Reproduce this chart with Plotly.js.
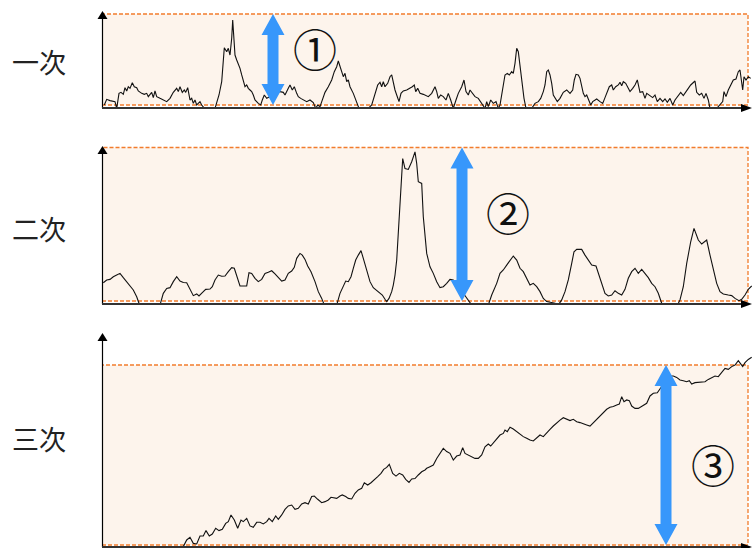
<!DOCTYPE html>
<html><head><meta charset="utf-8">
<script src="https://cdn.plot.ly/plotly-3.0.1.min.js"></script>
<style>html,body{margin:0;padding:0;background:#fff}#chart{width:753px;height:548px}</style>
</head><body><div id="chart"></div>
<script>
// ---- data (values: 0 = band bottom, 100 = band top) ----
const t1 = [2.3,4.7,8,13,14.7,17,19,21.3,23,24.7,26.3,28,30.3,32.3,34.7,36.3,39.7,42.3,44.7,46.3,49.7,51.3,53,54.7,58,61.3,64.7,68,71.3,74.7,76.3,78,80.3,82.3,83.7,85.7,88,89.7,91.3,93,94.7,98,99.7,103,108,113,114.7,117,119.7,122.3,124.7,126.3,128,129.7,130.7,131.7,133,134.7,136.3,138,139.7,141.3,143,144.7,146.3,148,149.7,151.3,153,156.3,158.7,160.3,162.3,164.7,168,171.3,174.7,178,181.3,183,186.3,188,190.3,192.3,194.7,196.3,198.7,201.3,204.7,208,211.3,213.7,215.7,218,220.3,223,226.3,229.7,232.3,234.7,236.3,238,239.7,241.3,243,244.7,246.3,248,251.3,254.7,257,259.7,264.7,269.7,273,275.7,278,279.7,281.3,283,285.7,288,289.7,291.3,293,294.7,297,299,301.3,304.7,308,310.3,312.3,313.7,315.7,318,321.3,323,326.3,329.7,333,334.7,336.3,338.7,341.3,344,346.3,348.7,351.3,354,356.3,359.7,362,364,366.3,368,370.7,373,376.3,379.7,383,384.7,386.3,388.7,391.3,394,396.3,398,400.7,403,405.3,407.3,409.7,411.3,413,414.7,416.3,418,419.7,422,424,426.3,429.7,433,436.3,438.7,441.3,443,444.7,446.3,448,449.7,451.3,453,455.3,458,461.3,464.7,468,470.7,472.3,474,476.3,478,479.7,481.3,483,484.7,486.3,488.7,490.7,494.7,498,500.7,503,505.3,507.3,509.7,511.3,513.7,516.3,518,519.7,521.3,523.7,526.3,528,530.7,533,535.3,536.7,538,540.7,543,544.7,548,550.7,553,555.3,558,560.7,563,565.3,568,570.7,573,576.3,578.7,581.3,584,586.3,588.7,591.3,593,594.7,597.3,599.7,602,604,606.3,608,611.3,614.7,618,620.7,622,624,626.3,628.7,631.3,634,636.3,638,639.7,640.7,642,644,646.3,648.7];
const v1 = [0,6.2,4.8,3.7,-3.7,12.8,13.9,11.7,19,15.4,20.1,18.3,24.5,20.1,19,15.4,12.8,11.7,12.8,9.2,13.9,8.1,15.4,9.2,7.3,5.5,3.7,7.3,13.9,18.3,14.7,20.1,13.9,16.5,13.9,19,5.5,7.3,1.8,5.5,0,3.7,0,-4.4,-6.6,-3.7,1.8,11,25.6,63,58.6,62.3,54.9,73.3,93.4,73.3,54.9,49.5,45.8,40.3,33,27.5,20.1,22,18.3,16.5,14.7,11,5.5,1.8,0,5.5,11,7.3,9.2,11,12.8,14.7,13.9,11,18.3,22,16.5,20.1,12.8,9.2,7.3,5.5,3.7,5.5,2.6,-3.7,0,-1.8,5.5,13.9,20.1,27.5,36.6,42.1,48.4,42.1,38.5,31.1,34.8,25.6,27.5,20.1,12.8,3.7,-3.7,-6.6,-5.5,0,11,22,24.9,20.1,25.6,20.1,23.8,31.1,33,23.8,16.5,11,3.7,12.8,15.4,16.5,18.3,20.1,22,14.7,18.3,12.8,11.7,11,9.2,12.8,20.1,14.7,7.3,11,9.2,5.5,12.8,5.5,-3.7,5.5,12.8,20.1,27.5,14.7,11,16.5,12.8,9.2,7.3,1.8,-3.7,3.7,-1.8,5.5,1.8,3.7,-3.7,0,16.5,33,34.8,33,36.6,34.8,45.8,62.3,58.6,44,25.6,7.3,-3.7,-6.6,-3.7,1.8,3.7,7.3,14.7,22,36.6,38.5,33,23.8,11,7.3,3.7,7.3,13.9,16.5,12.8,16.5,27.5,33.7,33,29.3,18.3,12.8,9.2,11,6.6,0,3.7,6.6,3.7,1.8,8.1,13.9,20.1,22,16.5,20.1,22,24.9,21.2,25.6,23.8,18.3,14.7,18.3,22,27.5,18.3,13.9,14.7,7.3,12.8,10.3,8.1,11,3.7,7.3,3.7,6.6,2.9,7.3,0,5.5,11,13.9,10.3,15.4,18.3,22,24.9,26.4,13.9,11,12.8,7.3,12.8,5.5,-3.7,-5.5,-3.7,0,3.7,14.7,9.2,16.5,22,27.5,28.6,36.6,38.5,27.5,16.5,31.1,27.5,31.1,29.3];

const t2 = [1.3,4.7,8,11.3,14.7,18,21.3,24.7,28,31.3,34.7,37,41.3,49.7,58,61.3,64.7,68,71.3,74.7,78,81.3,84.7,88,91.3,94.7,97,100.3,103.7,108,110.3,113,116.3,119.7,123,126.3,129.7,132.3,135.7,138,142.3,144.7,147,149.7,153,156.3,159.7,163,166.3,169.7,173,176.3,179.7,183,186.3,189.7,192.3,194.7,198,200.3,203,205.7,209,213,216.3,219.7,223,228,234.7,238,241.3,243.7,246.3,249,251.3,253.7,256.3,259,261.3,264.7,268,271.3,274.7,278,280.3,283,284.7,287,289.7,291.3,293,294.7,297,299,300.7,303,306.3,309.7,313,314.7,316.3,319.7,321.3,324.7,328,331.3,334.7,338,341.3,344.7,348,351.3,356.3,361.3,366.3,369.7,376.3,386.3,389.7,394.7,398,401.3,404.7,408,411.3,414.7,418,421.3,424.7,428,431.3,434.7,438,441.3,444.7,449.7,453,456.3,459.7,463,466.3,469.7,472,474.7,479.7,483,486.3,489.7,494,496.3,499.7,503,506.3,509.7,513,516.3,519.7,523,526.3,529.7,533,536.3,539.7,543,546.3,549.7,553,556.3,559.7,566.3,574.7,578,581.3,584.7,588.7,592,596.3,599.7,604.7,608,611.3,614.7,618,621.3,626.3,629.7,633,637,639.7,643,646.3,649.7];
const v2 = [11.9,13.7,14.1,15.8,16.9,18,15.2,12.6,10,7.2,2.8,-1.5,-3.7,-4.8,-2.6,5,8.2,8.7,12.6,15.8,13,12.1,11.9,7.2,3.5,4.6,3.3,5.4,7.6,7.8,9.3,13.7,16.9,16.1,16.3,19.1,21.7,21.3,15.2,9.8,9.8,9.8,18.4,18,14.8,12.6,14.1,18,18.7,19.7,17.6,15.2,13,13.7,18,19.5,21.9,27.8,31,29.9,27.1,22.8,19.1,12.6,6.1,1.7,-3.7,-4.8,-2.6,5,10.4,13,12.6,15.8,21.3,26.7,29.9,32.8,27.8,20.2,12.6,8.7,6.7,5.4,3.9,1.1,-0.4,1.7,6.1,10.4,16.9,26.7,50.5,74.4,92.8,86.3,85.7,90.7,97.2,89.6,77.7,76.6,54.9,31,22.3,18,12.6,8.7,9.3,11.5,14.1,13.7,10.4,5,0.7,-2.6,-4.8,-2.6,3.9,11.5,18,20.2,23.4,26.7,29.3,26.7,21.3,19.1,14.8,10.4,11.5,9.3,6.1,1.7,-0.4,-0.9,-1.5,-2.6,0.7,6.1,13.7,24.5,32.1,33.6,33.6,29.9,26.7,23.4,22.8,18,11.5,5,3.3,3.9,6.7,5,3.9,7.6,14.8,19.1,21.3,18,20.6,18,15.2,11.5,9.3,5,-1.5,-4.8,-3.7,0.7,9.3,24.5,38.6,47.3,39.7,37.1,39.7,29.9,20.2,11.5,6.1,4.6,3.9,3.5,1.7,0.2,1.1,3.9,7.6,9.8];

const t3 = [0,79,81.3,84.7,88,91.3,94.7,98,101.3,104,107.3,110.3,113.7,117,120.3,123.7,126.3,129,132.3,135.7,139,141.3,144.7,148,151.3,154.7,158,161.3,164.7,167,170.3,173.7,176.3,179.7,183,186.3,189.7,193,196.3,199.7,203,206.3,209.7,212.3,215.7,219.7,223,226.3,229,232.3,234.7,238,240.3,243.7,246.3,249.7,253,256.3,259.7,262.3,265.7,269,272.3,275.7,279,281.7,284.7,287.3,290.7,294,297.3,300.7,303.7,307,309.7,313,316.3,319.7,323,324.7,328,331.3,334.7,338,341.3,344.7,348,351.3,354.7,358,360.7,363,366.3,369.7,373,376.3,379.7,383,386.3,388.7,392,394.7,398,401.3,403,405.3,408,411.3,414.7,418,421.3,424.7,428,431.3,434.7,438,441.3,444.7,448,451.3,454.7,458,461.3,464.7,468,471.3,474.7,478,481.3,484.7,488,491.3,494.7,498,501.3,504.7,508,511.3,514.7,517.3,519.7,522,524.7,527.3,529.7,533,536.3,539.7,542,544.7,548,551.3,555.3,558.7,563,567.3,571.3,574.7,578,581.3,584.7,587.3,589.7,593,596.3,599.7,603,606.3,609.7,613,616.3,619.7,623,626.3,629.7,633,636.3,638.7,640.7,643,646.3,649.7];
const v3 = [-2,-2,-0.9,2.8,4.3,0.9,0.6,5,5,8,5,6.1,9.3,8,8.7,12,13,16.7,13.9,9.3,13.9,13,14.8,10.6,9.8,12.6,12.6,11.7,13,14.8,13,16.1,14.3,16.7,19.8,21.7,22.2,19.8,20.4,22.8,23.5,22.8,26.9,27.2,25.4,23.5,24.1,25,26.5,25.9,25.9,27.2,27.8,26.9,25.9,25.6,28.7,30.6,31.5,34.6,33.3,34.6,36.1,38,39.8,42,43.1,44.8,39.8,38.3,39.8,38.9,36.5,34.8,36.7,36.9,38.9,40.7,41.7,42.6,43.5,44.4,48.1,50.9,53.7,51.9,50.9,47.2,49.4,50,54.1,50.9,50,49.1,48.1,48.1,50,54.6,56.1,55,57.4,59.3,61.1,62,63.9,63,65.4,64.4,63,61.5,60.2,59.3,58.3,57.8,59.3,61.1,60.2,62,64.3,66.1,68,69.4,70.7,69.8,69.1,69.8,68.5,68,67.2,66.7,66.1,68,69.4,71.3,73.5,75.4,76.5,76.9,77.8,78.3,82.4,79.6,80.6,80.2,77.2,75.9,75.9,76.9,77.8,78.7,82.8,84.3,84.6,87.6,90.7,93.9,93.9,93.1,91.7,91.3,90.7,91.3,89.4,90.2,90.4,90.2,90.7,92,93.1,93.9,93.5,95.7,98.1,97.6,99.1,100,102.4,100.6,99.1,101.3,103.1,104.3];

const labels = ['一次','二次','三次'];
const marks = ['①','②','③'];

// ---- layout helpers (pixel -> paper) ----
const W = 753, H = 548;
const PX = x => x / W, PY = y => 1 - y / H;
const panels = [
  {axis:108, top:11, rTop:14, rBot:105, labelY:61, arrowX:273, markX:315, markY:48},
  {axis:304, top:146, rTop:147.5, rBot:301, labelY:228, arrowX:462, markX:508, markY:212},
  {axis:547, top:333, rTop:365, rBot:545, labelY:438, arrowX:666, markX:713, markY:464}
];
const series = [[t1, v1], [t2, v2], [t3, v3]];

const layout = {
  width: W, height: H, margin: {l:0, r:0, t:0, b:0},
  paper_bgcolor: '#fff', plot_bgcolor: 'rgba(0,0,0,0)', showlegend: false,
  shapes: [], annotations: []
};
const data = [];
const ORANGE = '#f27c2c', BLUE = '#3797fb';

panels.forEach((p, i) => {
  const n = i === 0 ? '' : String(i + 1);
  const k = 100 / (p.rBot - p.rTop);
  layout['xaxis' + n] = {domain: [PX(102), PX(752)], range: [0, 650], visible: false, anchor: 'y' + n, fixedrange: true};
  layout['yaxis' + n] = {domain: [PY(p.axis), PY(p.top)], range: [-(p.axis - p.rBot) * k, (p.rBot - p.top) * k], visible: false, anchor: 'x' + n, fixedrange: true};
  data.push({x: series[i][0], y: series[i][1], xaxis: 'x' + n, yaxis: 'y' + n, type: 'scatter', mode: 'lines',
    line: {color: '#111', width: 1.1}, hoverinfo: 'skip'});
  // band
  layout.shapes.push({type: 'rect', xref: 'x' + n, yref: 'y' + n, x0: 0, x1: 646, y0: 0, y1: 100, layer: 'below',
    fillcolor: '#fdf4ec', line: {color: ORANGE, width: 1.3, dash: '4px,2px'}});
  // y axis + arrow
  layout.shapes.push({type: 'line', xref: 'paper', yref: 'paper', x0: PX(102.5), x1: PX(102.5), y0: PY(p.axis), y1: PY(p.top + 6), line: {color: '#000', width: 1.2}});
  layout.shapes.push({type: 'path', xref: 'paper', yref: 'paper', fillcolor: '#000', line: {width: 0},
    path: `M${PX(102.5)},${PY(p.top)} L${PX(107.5)},${PY(p.top + 8)} L${PX(97.5)},${PY(p.top + 8)} Z`});
  // x axis + arrow
  layout.shapes.push({type: 'line', xref: 'paper', yref: 'paper', x0: PX(102), x1: PX(744), y0: PY(p.axis), y1: PY(p.axis), line: {color: '#333', width: 1.8}});
  layout.shapes.push({type: 'path', xref: 'paper', yref: 'paper', fillcolor: '#000', line: {width: 0},
    path: `M${PX(752)},${PY(p.axis)} L${PX(741)},${PY(p.axis - 4)} L${PX(741)},${PY(p.axis + 4)} Z`});
  // blue double arrow
  const cx = p.arrowX, ty = p.rTop, by = p.rBot, hh = 21, hw = 11.5, sw = 5.5;
  const pts = [[cx,ty],[cx+hw,ty+hh],[cx+sw,ty+hh],[cx+sw,by-hh],[cx+hw,by-hh],[cx,by],[cx-hw,by-hh],[cx-sw,by-hh],[cx-sw,ty+hh],[cx-hw,ty+hh]];
  layout.shapes.push({type: 'path', xref: 'paper', yref: 'paper', fillcolor: BLUE, line: {width: 0},
    path: 'M' + pts.map(q => PX(q[0]) + ',' + PY(q[1])).join(' L') + ' Z'});
  // texts
  layout.annotations.push({xref: 'paper', yref: 'paper', x: PX(39), y: PY(p.labelY), text: labels[i], showarrow: false,
    xanchor: 'center', yanchor: 'middle', font: {family: 'Noto Sans CJK JP', size: 27, color: '#222'}});
  layout.annotations.push({xref: 'paper', yref: 'paper', x: PX(p.markX), y: PY(p.markY), text: marks[i], showarrow: false,
    xanchor: 'center', yanchor: 'middle', font: {family: 'Noto Sans CJK JP', size: 44, color: '#111'}});
});

Plotly.newPlot('chart', data, layout, {staticPlot: true, displayModeBar: false});
</script></body></html>
